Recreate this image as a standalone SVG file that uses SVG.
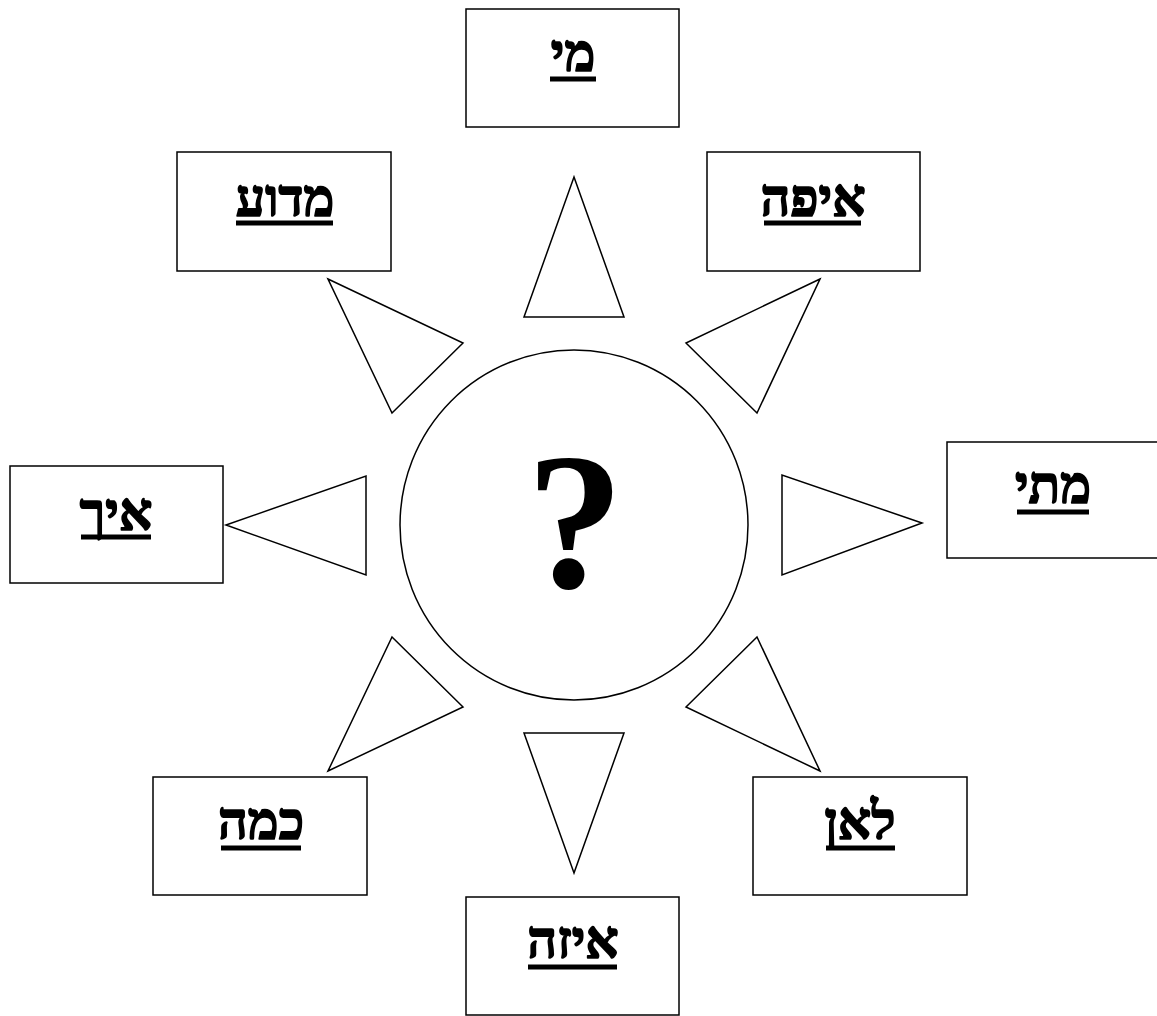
<svg xmlns="http://www.w3.org/2000/svg" width="1157" height="1016" viewBox="0 0 1157 1016">
<style>
.box{fill:#fff;stroke:#000;stroke-width:1.5}
.tri{fill:#fff;stroke:#000;stroke-width:1.5;stroke-linejoin:miter}
.lbl{font-family:"Liberation Serif","DejaVu Serif",serif;font-weight:bold;font-size:52px;text-anchor:middle;fill:#000;stroke:#000;stroke-width:1.6;stroke-linejoin:round}
.ul{stroke:#000;stroke-width:5}
.q{font-family:"Liberation Serif","DejaVu Serif",serif;font-weight:bold;font-size:195px;text-anchor:middle;fill:#000}
</style>
<rect width="1157" height="1016" fill="#fff"/>
<g id="connectors">
<polygon class="tri" points="574,177 524,317 624,317"/>
<polygon class="tri" points="328,279 463,343 392,413"/>
<polygon class="tri" points="820,279 686,343 757,413"/>
<polygon class="tri" points="226,525 366,476 366,575"/>
<polygon class="tri" points="922,523 782,475 782,575"/>
<polygon class="tri" points="328,771 463,707 392,637"/>
<polygon class="tri" points="820,771 686,707 757,637"/>
<polygon class="tri" points="574,873 524,733 624,733"/>
</g>
<g id="center">
<ellipse class="box" cx="574" cy="525" rx="174" ry="175"/>
<text class="q" x="575" y="587">?</text>
</g>
<g id="mi">
<rect class="box" x="466" y="9" width="213" height="118"/>
<text class="lbl" x="573" y="71" direction="rtl">מי</text>
<line class="ul" x1="550" y1="79" x2="596" y2="79"/>
</g>
<g id="madua">
<rect class="box" x="177" y="152" width="214" height="119"/>
<text class="lbl" x="285" y="216" direction="rtl">מדוע</text>
<line class="ul" x1="236" y1="223" x2="333" y2="223"/>
</g>
<g id="eifo">
<rect class="box" x="707" y="152" width="213" height="119"/>
<text class="lbl" x="813" y="216" direction="rtl">איפה</text>
<line class="ul" x1="764" y1="223" x2="861" y2="223"/>
</g>
<g id="eich">
<rect class="box" x="10" y="466" width="213" height="117"/>
<text class="lbl" x="116" y="530" direction="rtl">איך</text>
<line class="ul" x1="81" y1="537" x2="151" y2="537"/>
</g>
<g id="matai">
<rect class="box" x="947" y="442" width="214" height="116"/>
<text class="lbl" x="1053" y="503" direction="rtl">מתי</text>
<line class="ul" x1="1017" y1="512" x2="1089" y2="512"/>
</g>
<g id="kama">
<rect class="box" x="153" y="777" width="214" height="118"/>
<text class="lbl" x="261" y="839" direction="rtl">כמה</text>
<line class="ul" x1="221" y1="848" x2="301" y2="848"/>
</g>
<g id="lean">
<rect class="box" x="753" y="777" width="214" height="118"/>
<text class="lbl" x="860" y="839" direction="rtl">לאן</text>
<line class="ul" x1="826" y1="848" x2="895" y2="848"/>
</g>
<g id="eize">
<rect class="box" x="466" y="897" width="213" height="118"/>
<text class="lbl" x="573" y="958" direction="rtl">איזה</text>
<line class="ul" x1="528" y1="967" x2="617" y2="967"/>
</g>
</svg>
